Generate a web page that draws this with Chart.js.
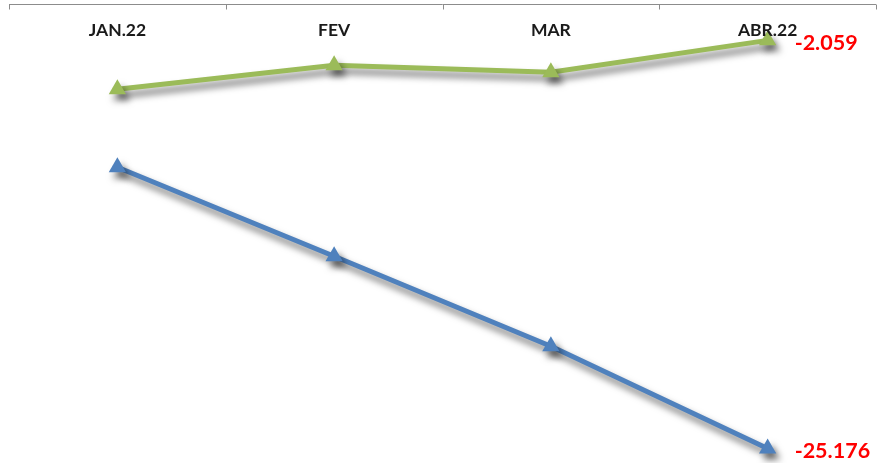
<!DOCTYPE html>
<html>
<head>
<meta charset="utf-8">
<script src="https://cdn.jsdelivr.net/npm/chart.js@4"></script>
<style>
  html, body { margin: 0; padding: 0; background: #fff; }
  #wrap { width: 879px; height: 463px; }
</style>
</head>
<body>
<div id="wrap"><canvas id="lineChart"></canvas></div>
<script>
const months = ["JAN.22", "FEV", "MAR", "ABR.22"];
const greenValues = [-4.83, -3.47, -3.87, -2.059];
const blueValues = [-9.25, -14.29, -19.39, -25.176];
const lastLabels = ["-2.059", "-25.176"];

// shadow under each line, like the Excel effect
const shadowPlugin = {
  id: "shadow",
  beforeDatasetDraw(chart) {
    const ctx = chart.ctx;
    ctx.save();
    ctx.shadowColor = "rgba(0,0,0,0.55)";
    ctx.shadowBlur = 7;
    ctx.shadowOffsetX = 4;
    ctx.shadowOffsetY = 6;
  },
  afterDatasetDraw(chart) {
    chart.ctx.restore();
  },
};

// axis at zero along the top, labels underneath it
const topAxisPlugin = {
  id: "topAxis",
  afterDraw(chart) {
    const ctx = chart.ctx;
    const x = chart.scales.x;
    const y0 = Math.round(chart.scales.y.getPixelForValue(0)) + 0.5;
    ctx.save();
    ctx.strokeStyle = "#8c8c8c";
    ctx.lineWidth = 1;
    ctx.beginPath();
    ctx.moveTo(x.left, y0);
    ctx.lineTo(x.right, y0);
    const step = (x.right - x.left) / months.length;
    for (let i = 0; i <= months.length; i++) {
      const tx = Math.round(x.left + i * step) + 0.5;
      ctx.moveTo(tx, y0);
      ctx.lineTo(tx, y0 + 5);
    }
    ctx.stroke();
    ctx.fillStyle = "#1a1a1a";
    ctx.font = "bold 17.5px Lato";
    ctx.textAlign = "center";
    ctx.textBaseline = "middle";
    months.forEach((m, i) => {
      ctx.fillText(m, x.getPixelForValue(i), y0 + 26);
    });
    ctx.restore();
  },
};

// red value at the last point of each series
const endLabelPlugin = {
  id: "endLabel",
  afterDatasetsDraw(chart) {
    const ctx = chart.ctx;
    ctx.save();
    ctx.fillStyle = "#ff0000";
    ctx.font = "bold 21.5px Lato";
    ctx.textAlign = "left";
    ctx.textBaseline = "middle";
    chart.data.datasets.forEach((ds, i) => {
      const pts = chart.getDatasetMeta(i).data;
      const p = pts[pts.length - 1];
      ctx.fillText(lastLabels[i], p.x + 27, p.y + 3);
    });
    ctx.restore();
  },
};

new Chart(document.getElementById("lineChart"), {
  type: "line",
  data: {
    labels: months,
    datasets: [
      {
        data: greenValues,
        borderColor: "#9bbb59",
        backgroundColor: "#9bbb59",
        borderWidth: 5,
        pointStyle: "triangle",
        pointRadius: 10,
        pointHoverRadius: 10,
        pointBorderWidth: 0,
        tension: 0,
      },
      {
        data: blueValues,
        borderColor: "#4f81bd",
        backgroundColor: "#4f81bd",
        borderWidth: 5,
        pointStyle: "triangle",
        pointRadius: 10,
        pointHoverRadius: 10,
        pointBorderWidth: 0,
        tension: 0,
      },
    ],
  },
  options: {
    responsive: true,
    maintainAspectRatio: false,
    animation: false,
    layout: { autoPadding: false, padding: { left: 9, right: 3, top: 4, bottom: 0 } },
    plugins: { legend: { display: false }, tooltip: { enabled: false } },
    scales: {
      x: { offset: true, display: false },
      y: { display: false, min: -26, max: 0 },
    },
  },
  plugins: [shadowPlugin, topAxisPlugin, endLabelPlugin],
});
</script>
</body>
</html>
